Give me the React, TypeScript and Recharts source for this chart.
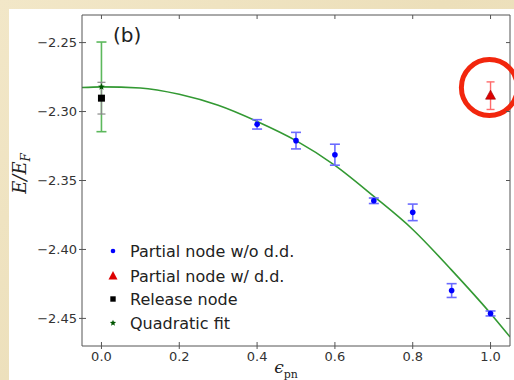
import React from 'react';
import { ComposedChart, XAxis, YAxis, Scatter, Line, ErrorBar, ReferenceDot, Legend, Customized } from 'recharts';

// ---- data ----
const xTicks = [0, 0.2, 0.4, 0.6, 0.8, 1.0];
const yTicks = [-2.45, -2.4, -2.35, -2.3, -2.25];

const blueX = [0.4, 0.5, 0.6, 0.7, 0.8, 0.9, 1.0];
const blueY = [-2.3093, -2.3211, -2.3313, -2.3647, -2.3731, -2.4298, -2.4464];
const blueErr = [0.0034, 0.006, 0.0076, 0.002, 0.006, 0.005, 0.0018];

const redX = [1.0];
const redY = [-2.2885];
const redErr = [0.01];

const releaseX = [0.0];
const releaseY = [-2.2903];
const releaseErr = [0.0115];

const starX = [0.0];
const starY = [-2.2821];
const starErr = [0.0325];

const fitX = [-0.05, 0, 0.1, 0.2, 0.3, 0.4, 0.5, 0.6, 0.7, 0.8, 0.9, 1.0, 1.05];
const fitY = [-2.2826, -2.2821, -2.2829, -2.2875, -2.2955, -2.3072, -2.3211, -2.339, -2.3615, -2.3855, -2.415, -2.4464, -2.4634];

const legendLabels = ['Partial node w/o d.d.', 'Partial node w/ d.d.', 'Release node', 'Quadratic fit'];

const circleTarget = { x: 0.997, y: -2.2826 };

const zip = (xs: number[], ys: number[], es?: number[]) =>
  xs.map((x, i) => ({ x, y: ys[i], e: es ? es[i] : 0 }));

const blueData = zip(blueX, blueY, blueErr);
const redData = zip(redX, redY, redErr);
const releaseData = zip(releaseX, releaseY, releaseErr);
const starData = zip(starX, starY, starErr);
const fitData = zip(fitX, fitY);

// ---- styles ----
const AXIS = '#555';
const TICKFONT = 'DejaVu Sans';
const fmtY = (v: number) => v.toFixed(2).replace('-', '\u2212');
const fmtX = (v: number) => v.toFixed(1);

const LeftTick = (p: any) => {
  const { x, y, payload } = p;
  const ax = x + 5;
  return (
    <g>
      <line x1={ax - 3} x2={ax + 4} y1={y} y2={y} stroke={AXIS} strokeWidth={1} />
      <text x={x} y={y} dy="0.36em" textAnchor="end" fontFamily={TICKFONT} fontSize={13} fill="#333">
        {fmtY(payload.value)}
      </text>
    </g>
  );
};

const BottomTick = (p: any) => {
  const { x, y, payload } = p;
  const ay = y - 5;
  return (
    <g>
      <line x1={x} x2={x} y1={ay - 4} y2={ay + 3} stroke={AXIS} strokeWidth={1} />
      <text x={x} y={y} dy="0.75em" textAnchor="middle" fontFamily={TICKFONT} fontSize={13} fill="#333">
        {fmtX(payload.value)}
      </text>
    </g>
  );
};

const TopTick = (p: any) => {
  const { x, y } = p;
  return <line x1={x} x2={x} y1={y} y2={y + 4} stroke={AXIS} strokeWidth={1} />;
};

const RightTick = (p: any) => {
  const { x, y } = p;
  return <line x1={x - 4} x2={x} y1={y} y2={y} stroke={AXIS} strokeWidth={1} />;
};

const starPath = (cx: number, cy: number, R: number) => {
  const r = R * 0.45;
  let d = '';
  for (let i = 0; i < 10; i++) {
    const rad = i % 2 === 0 ? R : r;
    const a = -Math.PI / 2 + (i * Math.PI) / 5;
    d += (i === 0 ? 'M' : 'L') + (cx + rad * Math.cos(a)).toFixed(2) + ',' + (cy + rad * Math.sin(a)).toFixed(2);
  }
  return d + 'Z';
};

const BlueDot = (p: any) => <circle cx={p.cx} cy={p.cy} r={2.8} fill="#0000ff" />;
const RedTri = (p: any) => (
  <path d={`M${p.cx},${p.cy - 5.5}L${p.cx + 5},${p.cy + 3.5}L${p.cx - 5},${p.cy + 3.5}Z`} fill="#dd0000" stroke="#990000" strokeWidth={0.6} />
);
const BlackSq = (p: any) => <rect x={p.cx - 3.5} y={p.cy - 3.5} width={7} height={7} fill="#000" />;
const GreenStar = (p: any) => <path d={starPath(p.cx, p.cy, 3.5)} fill="#005500" />;

const LegendContent = () => {
  const rows = [12, 37, 60, 84];
  const mx = 9;
  return (
    <svg width={230} height={100} style={{ display: 'block' }}>
      <circle cx={mx} cy={rows[0]} r={2.3} fill="#0000ff" />
      <path d={`M${mx},${rows[1] - 5}L${mx + 4.5},${rows[1] + 3.5}L${mx - 4.5},${rows[1] + 3.5}Z`} fill="#dd0000" />
      <rect x={mx - 2.7} y={rows[2] - 2.7} width={5.4} height={5.4} fill="#000" />
      <path d={starPath(mx, rows[3], 3.3)} fill="#005500" />
      {legendLabels.map((t, i) => (
        <text key={t} x={26} y={rows[i]} dy="0.36em" fontFamily={TICKFONT} fontSize={16} fill="#222">
          {t}
        </text>
      ))}
    </svg>
  );
};

const YLabel = (p: any) => {
  const vb = p.viewBox || { x: 0, y: 6, width: 73, height: 331 };
  const cx = vb.x + 17;
  const cy = vb.y + vb.height / 2 - 7;
  return (
    <text x={cx} y={cy} transform={`rotate(-90, ${cx}, ${cy})`} textAnchor="middle" fontFamily="DejaVu Serif" fontStyle="italic" fontSize={18} fill="#222">
      E/E
      <tspan fontSize={12} dy={4}>F</tspan>
    </text>
  );
};

const XLabel = (p: any) => {
  const vb = p.viewBox || { x: 73, y: 337, width: 428, height: 34 };
  const cx = vb.x + vb.width / 2 - 10;
  const cy = vb.y + 27;
  return (
    <text x={cx} y={cy} textAnchor="middle" fill="#222">
      <tspan fontFamily="DejaVu Serif" fontStyle="italic" fontSize={17}>{'\u03F5'}</tspan>
      <tspan fontFamily="DejaVu Serif" fontSize={11} dy={5}>pn</tspan>
    </text>
  );
};

const PanelTag = (p: any) => {
  const off = p.offset || { left: 73, top: 6 };
  return (
    <text x={off.left + 31} y={off.top + 27} fontFamily={TICKFONT} fontSize={20} fill="#222">
      (b)
    </text>
  );
};

export default function App() {
  return (
    <div style={{ position: 'absolute', left: 0, top: 0, width: 514, height: 380, background: 'linear-gradient(135deg, #f2e7c8 0%, #ecdfba 50%, #f1e5c3 100%)', overflow: 'hidden' }}>
      <div style={{ position: 'absolute', left: 9, top: 9, width: 505, height: 371, background: '#fff' }}>
        <ComposedChart width={505} height={371} margin={{ top: 0, right: 0, bottom: 0, left: 0 }}>
          <XAxis
            xAxisId={0}
            dataKey="x"
            type="number"
            domain={[-0.05, 1.05]}
            ticks={xTicks}
            interval={0}
            height={34}
            tickSize={0}
            tickMargin={5}
            tick={BottomTick}
            tickLine={false}
            axisLine={{ stroke: AXIS, strokeWidth: 1 }}
            allowDataOverflow
            label={{ content: XLabel } as any}
          />
          <XAxis
            xAxisId="top"
            orientation="top"
            dataKey="x"
            type="number"
            domain={[-0.05, 1.05]}
            ticks={xTicks}
            interval={0}
            height={6}
            tickSize={0}
            tickMargin={0}
            tick={TopTick}
            tickLine={false}
            axisLine={{ stroke: AXIS, strokeWidth: 1 }}
            allowDataOverflow
          />
          <YAxis
            yAxisId={0}
            dataKey="y"
            type="number"
            domain={[-2.47, -2.23]}
            ticks={yTicks}
            interval={0}
            width={73}
            tickSize={0}
            tickMargin={5}
            tick={LeftTick}
            tickLine={false}
            axisLine={{ stroke: AXIS, strokeWidth: 1 }}
            allowDataOverflow
            label={{ content: YLabel } as any}
          />
          <YAxis
            yAxisId="right"
            orientation="right"
            dataKey="y"
            type="number"
            domain={[-2.47, -2.23]}
            ticks={yTicks}
            interval={0}
            width={4}
            tickSize={0}
            tickMargin={0}
            tick={RightTick}
            tickLine={false}
            axisLine={{ stroke: AXIS, strokeWidth: 1 }}
            allowDataOverflow
          />
          <Line
            data={fitData}
            dataKey="y"
            type="monotone"
            stroke="#339933"
            strokeWidth={1.6}
            dot={false}
            activeDot={false}
            isAnimationActive={false}
            legendType="none"
          />
          <Scatter data={starData} dataKey="y" shape={GreenStar} isAnimationActive={false}>
            <ErrorBar dataKey="e" direction="y" width={5} stroke="#5cb85c" strokeWidth={1.6} isAnimationActive={false} />
          </Scatter>
          <Scatter data={releaseData} dataKey="y" shape={BlackSq} isAnimationActive={false}>
            <ErrorBar dataKey="e" direction="y" width={4} stroke="#888" strokeWidth={1.2} isAnimationActive={false} />
          </Scatter>
          <Scatter data={blueData} dataKey="y" shape={BlueDot} isAnimationActive={false}>
            <ErrorBar dataKey="e" direction="y" width={5} stroke="#6b6bff" strokeWidth={1.6} isAnimationActive={false} />
          </Scatter>
          <Scatter data={redData} dataKey="y" shape={RedTri} isAnimationActive={false}>
            <ErrorBar dataKey="e" direction="y" width={4} stroke="#ff6b6b" strokeWidth={1.4} isAnimationActive={false} />
          </Scatter>
          <ReferenceDot
            x={circleTarget.x}
            y={circleTarget.y}
            r={28}
            fill="none"
            stroke="#f2260d"
            strokeWidth={5}
            ifOverflow="visible"
          />
          <Customized component={PanelTag} />
          <Legend
            layout="vertical"
            align="center"
            verticalAlign="middle"
            content={LegendContent}
            wrapperStyle={{ left: 95, top: 230, width: 230, height: 100 }}
          />
        </ComposedChart>
      </div>
    </div>
  );
}
